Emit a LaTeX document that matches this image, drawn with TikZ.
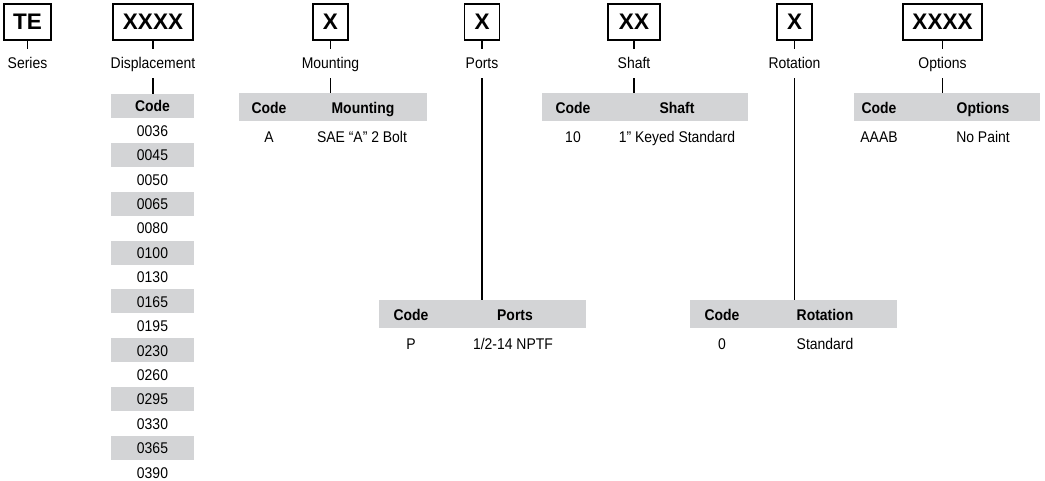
\documentclass[tikz,border=0pt]{standalone}
\usepackage{fontspec}
\setmainfont{Liberation Sans}[FakeStretch=0.9]
\newfontfamily\boxfont{Liberation Sans}
\newcommand{\txtsize}{\fontsize{15.5}{17}\selectfont}
\definecolor{bandgray}{RGB}{211,212,214}
\tikzset{
  codebox/.style={draw, line width=1.6pt, minimum height=36pt, inner sep=0pt, font=\boxfont\bfseries\fontsize{22.5}{22.5}\selectfont},
  lbl/.style={inner xsep=0pt, inner ysep=9pt, text height=11pt, text depth=0pt},
  band/.style={fill=bandgray, inner sep=0pt},
  hd/.style={inner sep=0pt, text height=11pt, text depth=0pt, font=\txtsize\bfseries},
  cell/.style={inner sep=0pt, text height=11pt, text depth=0pt},
  stub/.style={line width=1.5pt}
}

\begin{document}
\begin{tikzpicture}[x=1pt, y=-1pt, font=\txtsize]
    \useasboundingbox (0,0) rectangle (1045,481);
    % code boxes
    \node[codebox, minimum width=47pt] (te) at (27.5,22) {TE};
    \node[codebox, minimum width=80pt] (disp) at (153,22) {XXXX};
    \node[codebox, minimum width=35pt] (mnt) at (330.5,22) {X};
    \node[codebox, minimum width=35pt] (prt) at (482,22) {X};
    \node[codebox, minimum width=52pt] (shf) at (634,22) {XX};
    \node[codebox, minimum width=35pt] (rot) at (794.5,22) {X};
    \node[codebox, minimum width=79pt] (opt) at (942.5,22) {XXXX};
    % labels
    \node[lbl] (te-l) at (27.5,63.5) {Series};
    \node[lbl] (disp-l) at (153,63.5) {Displacement};
    \node[lbl] (mnt-l) at (330.5,63.5) {Mounting};
    \node[lbl] (prt-l) at (482,63.5) {Ports};
    \node[lbl] (shf-l) at (634,63.5) {Shaft};
    \node[lbl] (rot-l) at (794.5,63.5) {Rotation};
    \node[lbl] (opt-l) at (942.5,63.5) {Options};
    \foreach \b in {te,disp,mnt,prt,shf,rot,opt}
        \draw[stub] (\b) -- (\b-l);

    % displacement table
    \node[band, minimum width=83pt, minimum height=24pt] (disp-t) at (152.5,106) {};
    \node[hd] (disp-h) at (152.5,106.5) {Code};
    \foreach \c [count=\i from 0] in {0036,0045,0050,0065,0080,0100,0130,0165,0195,0230,0260,0295,0330,0365,0390} {
        \ifodd\i
            \node[band, minimum width=83pt, minimum height=24pt] (d\i-b) at (152.5,{130.6+24.4*\i}) {};
        \fi
        \node[cell] (d\i) at (152.5,{130.9+24.4*\i}) {\c};
    }

    % mounting table
    \node[band, minimum width=188pt, minimum height=28pt] (mnt-t) at (333,107) {};
    \node[hd] (mnt-h1) at (269,108.5) {Code};
    \node[hd] (mnt-h2) at (363,108.5) {Mounting};
    \node[cell] (mnt-c) at (269,137.5) {A};
    \node[cell] (mnt-d) at (362,137.5) {SAE “A” 2 Bolt};

    % ports table
    \node[band, minimum width=207pt, minimum height=28pt] (prt-t) at (482.5,314) {};
    \node[hd] (prt-h1) at (411,315.5) {Code};
    \node[hd] (prt-h2) at (515,315.5) {Ports};
    \node[cell] (prt-c) at (411,344) {P};
    \node[cell] (prt-d) at (513,344) {1/2-14 NPTF};

    % shaft table
    \node[band, minimum width=206pt, minimum height=28pt] (shf-t) at (645,107) {};
    \node[hd] (shf-h1) at (573,108.5) {Code};
    \node[hd] (shf-h2) at (677,108.5) {Shaft};
    \node[cell] (shf-c) at (573,137.5) {10};
    \node[cell] (shf-d) at (677,137.5) {1” Keyed Standard};

    % rotation table
    \node[band, minimum width=207pt, minimum height=28pt] (rot-t) at (793.5,314) {};
    \node[hd] (rot-h1) at (722,315.5) {Code};
    \node[hd] (rot-h2) at (825,315.5) {Rotation};
    \node[cell] (rot-c) at (722,344) {0};
    \node[cell] (rot-d) at (825,344) {Standard};

    % options table
    \node[band, minimum width=186pt, minimum height=28pt] (opt-t) at (947,107) {};
    \node[hd] (opt-h1) at (879,108.5) {Code};
    \node[hd] (opt-h2) at (983,108.5) {Options};
    \node[cell] (opt-c) at (879,137.5) {AAAB};
    \node[cell] (opt-d) at (983,137.5) {No Paint};

    % label to table
    \foreach \b in {disp,mnt,prt,shf,rot,opt}
        \draw[stub] (\b-l) -- (\b-l |- \b-t.north);
\end{tikzpicture}
\end{document}
